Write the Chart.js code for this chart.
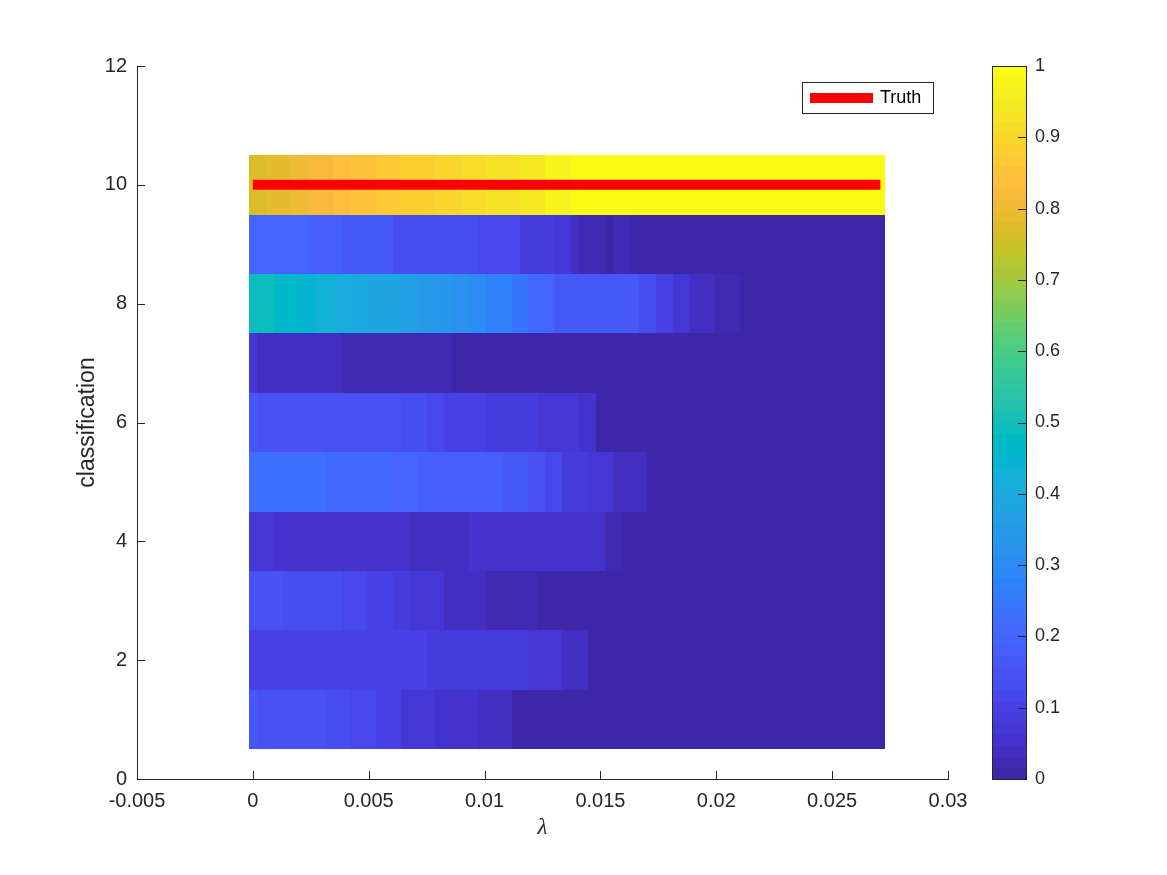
<!DOCTYPE html>
<html>
<head>
<meta charset="utf-8">
<script src="https://cdn.jsdelivr.net/npm/chart.js@4.4.1/dist/chart.umd.min.js"></script>
<style>
  html, body { margin: 0; padding: 0; background: #ffffff; }
  #wrap { width: 1167px; height: 875px; position: relative; }
</style>
</head>
<body>
<div id="wrap"><canvas id="heat" width="1167" height="875"></canvas></div>
<script>
// classification rows and the lambda grid of the image
const classes = [1, 2, 3, 4, 5, 6, 7, 8, 9, 10];
const lambdaStep = 0.000366;
const lambdaCount = 75;
const truthClass = 10;

const row1 = [[1, .17], [4, .155], [4, .145], [3, .13], [3, .115], [3, .10], [4, .075], [5, .06], [4, .04], [44, 0]];
const row2 = [[21, .095], [12, .08], [4, .065], [3, .045], [35, 0]];
const row3 = [[4, .15], [7, .13], [3, .115], [3, .10], [2, .085], [4, .065], [5, .045], [6, .025], [41, 0]];
const row4 = [[3, .07], [16, .055], [7, .045], [9, .06], [7, .05], [2, .03], [31, 0]];
const row5 = [[9, .22], [8, .205], [3, .19], [10, .18], [3, .165], [2, .15], [2, .12], [3, .09], [3, .065], [4, .045], [28, 0]];
const row6 = [[1, .165], [17, .155], [3, .14], [2, .12], [5, .10], [6, .09], [5, .07], [2, .05], [34, 0]];
const row7 = [[1, .065], [10, .045], [13, .03], [51, 0]];
const row8 = [[3, .49], [3, .46], [2, .445], [2, .43], [2, .41], [2, .40], [2, .39], [2, .38], [2, .365], [2, .35], [2, .335],
              [2, .32], [2, .30], [3, .28], [2, .24], [2, .215], [1, .20], [8, .17], [2, .16], [2, .13], [2, .095], [2, .07],
              [2, .045], [1, .035], [3, .03], [17, 0]];
const row9 = [[3, .20], [4, .19], [4, .175], [3, .165], [3, .16], [3, .14], [7, .125], [5, .115], [4, .09], [2, .065], [1, .045],
              [3, .03], [1, .005], [2, .03], [30, 0]];
const row10 = [[2, .77], [3, .785], [2, .80], [3, .82], [2, .84], [3, .85], [3, .87], [2, .88], [2, .89], [3, .90], [3, .91],
               [4, .93], [3, .95], [3, .97], [37, 1.0]];

const xTickValues = [-0.005, 0, 0.005, 0.01, 0.015, 0.02, 0.025, 0.03];
const xTickLabels = ['-0.005', '0', '0.005', '0.01', '0.015', '0.02', '0.025', '0.03'];
const yTickValues = [0, 2, 4, 6, 8, 10, 12];
const yTickLabels = ['0', '2', '4', '6', '8', '10', '12'];
const cbTickValues = [0, 0.1, 0.2, 0.3, 0.4, 0.5, 0.6, 0.7, 0.8, 0.9, 1];
const cbTickLabels = ['0', '0.1', '0.2', '0.3', '0.4', '0.5', '0.6', '0.7', '0.8', '0.9', '1'];

// parula, 64 entries
const parula = [
  [0.2422,0.1504,0.6603],[0.2504,0.1650,0.7076],[0.2578,0.1818,0.7511],[0.2647,0.1978,0.7952],
  [0.2706,0.2147,0.8364],[0.2751,0.2342,0.8710],[0.2783,0.2559,0.8991],[0.2803,0.2782,0.9221],
  [0.2813,0.3006,0.9414],[0.2810,0.3228,0.9579],[0.2795,0.3447,0.9717],[0.2760,0.3667,0.9829],
  [0.2699,0.3892,0.9906],[0.2602,0.4123,0.9952],[0.2440,0.4358,0.9988],[0.2206,0.4603,0.9973],
  [0.1963,0.4847,0.9892],[0.1834,0.5074,0.9798],[0.1786,0.5289,0.9682],[0.1764,0.5499,0.9520],
  [0.1687,0.5703,0.9359],[0.1540,0.5902,0.9218],[0.1460,0.6091,0.9079],[0.1380,0.6276,0.8973],
  [0.1248,0.6459,0.8883],[0.1113,0.6635,0.8763],[0.0952,0.6798,0.8598],[0.0689,0.6948,0.8394],
  [0.0297,0.7082,0.8163],[0.0036,0.7203,0.7917],[0.0067,0.7312,0.7660],[0.0433,0.7411,0.7394],
  [0.0964,0.7500,0.7120],[0.1408,0.7584,0.6842],[0.1717,0.7670,0.6554],[0.1938,0.7758,0.6251],
  [0.2161,0.7843,0.5923],[0.2470,0.7918,0.5567],[0.2906,0.7973,0.5188],[0.3406,0.8008,0.4789],
  [0.3909,0.8029,0.4354],[0.4456,0.8024,0.3909],[0.5044,0.7993,0.3480],[0.5616,0.7942,0.3045],
  [0.6174,0.7876,0.2612],[0.6720,0.7793,0.2227],[0.7242,0.7698,0.1910],[0.7738,0.7598,0.1646],
  [0.8203,0.7498,0.1535],[0.8634,0.7406,0.1596],[0.9035,0.7330,0.1774],[0.9393,0.7288,0.2100],
  [0.9728,0.7298,0.2394],[0.9956,0.7434,0.2371],[0.9970,0.7659,0.2199],[0.9952,0.7893,0.2028],
  [0.9892,0.8136,0.1885],[0.9786,0.8386,0.1766],[0.9676,0.8639,0.1643],[0.9610,0.8890,0.1537],
  [0.9597,0.9135,0.1423],[0.9628,0.9373,0.1265],[0.9691,0.9606,0.1064],[0.9769,0.9839,0.0805]
];

const axisColor = '#262626';
const fontFamily = '"Liberation Sans", Arial, Helvetica, sans-serif';

function expandRuns(runs) {
  const out = [];
  runs.forEach(([n, v]) => { for (let i = 0; i < n; i++) out.push(v); });
  return out;
}

function parulaColor(v) {
  const idx = Math.max(0, Math.min(63, Math.floor(v * 64)));
  const c = parula[idx];
  return `rgb(${Math.round(c[0] * 255)},${Math.round(c[1] * 255)},${Math.round(c[2] * 255)})`;
}

const rows = [row1, row2, row3, row4, row5, row6, row7, row8, row9, row10].map(expandRuns);
const lambdas = Array.from({ length: lambdaCount }, (_, i) => i * lambdaStep);

// fixed box sizes so the plot area sits where the figure has it
const fixBox = (w, h) => s => {
  if (w !== null) s.width = w;
  if (h !== null) s.height = h;
  s.paddingTop = 0; s.paddingBottom = 0; s.paddingLeft = 0; s.paddingRight = 0;
};

const heatmap = {
  id: 'heatmap',
  beforeDatasetsDraw(chart) {
    const { ctx, chartArea: a, scales: { x, y } } = chart;
    ctx.save();
    ctx.beginPath();
    ctx.rect(a.left, a.top, a.width, a.height);
    ctx.clip();
    rows.forEach((vals, r) => {
      const yTop = Math.round(y.getPixelForValue(classes[r] + 0.5));
      const yBot = Math.round(y.getPixelForValue(classes[r] - 0.5));
      vals.forEach((v, k) => {
        const x0 = Math.round(x.getPixelForValue(lambdas[k] - lambdaStep / 2));
        const x1 = Math.round(x.getPixelForValue(lambdas[k] + lambdaStep / 2));
        ctx.fillStyle = parulaColor(v);
        ctx.fillRect(x0, yTop, x1 - x0, yBot - yTop);
      });
    });
    ctx.restore();
  }
};

const axisExtras = {
  id: 'axisExtras',
  afterDraw(chart) {
    const { ctx, chartArea: a, scales: { x, y, cb } } = chart;
    ctx.save();
    ctx.strokeStyle = axisColor;
    ctx.lineWidth = 1;
    const seg = (x0, y0, x1, y1) => { ctx.beginPath(); ctx.moveTo(x0, y0); ctx.lineTo(x1, y1); ctx.stroke(); };

    // inward tick marks
    x.ticks.forEach(t => {
      const px = Math.round(x.getPixelForValue(t.value)) + 0.5;
      seg(px, a.bottom, px, a.bottom - 8);
    });
    y.ticks.forEach(t => {
      const py = Math.round(y.getPixelForValue(t.value)) + 0.5;
      seg(a.left, py, a.left + 8, py);
    });

    // colour bar
    const cbLeft = a.right + 44, cbW = 34;
    for (let i = 0; i < 64; i++) {
      const yTop = Math.round(cb.getPixelForValue((i + 1) / 64));
      const yBot = Math.round(cb.getPixelForValue(i / 64));
      ctx.fillStyle = parulaColor((i + 0.5) / 64);
      ctx.fillRect(cbLeft, yTop, cbW, yBot - yTop);
    }
    const cTop = Math.round(cb.getPixelForValue(1)), cBot = Math.round(cb.getPixelForValue(0));
    ctx.strokeRect(cbLeft + 0.5, cTop + 0.5, cbW, cBot - cTop);
    cb.ticks.forEach(t => {
      const py = Math.round(cb.getPixelForValue(t.value)) + 0.5;
      seg(cbLeft + cbW - 8, py, cbLeft + cbW, py);
    });

    // legend
    const ds = chart.data.datasets[0];
    const bx = a.right - 146, by = a.top + 16, bw = 131, bh = 31;
    ctx.fillStyle = '#ffffff';
    ctx.fillRect(bx, by, bw, bh);
    ctx.strokeRect(bx + 0.5, by + 0.5, bw, bh);
    ctx.strokeStyle = ds.borderColor;
    ctx.lineWidth = 10;
    seg(bx + 8, by + 16, bx + 71, by + 16);
    ctx.fillStyle = '#000000';
    ctx.font = `18px ${fontFamily}`;
    ctx.textBaseline = 'middle';
    ctx.textAlign = 'left';
    ctx.fillText(ds.label, bx + 78, by + 16.5);
    ctx.restore();
  }
};

new Chart(document.getElementById('heat'), {
  type: 'scatter',
  data: {
    datasets: [{
      label: 'Truth',
      data: [{ x: lambdas[0], y: truthClass }, { x: lambdas[lambdaCount - 1], y: truthClass }],
      showLine: true,
      borderColor: '#ff0000',
      borderWidth: 10,
      borderCapStyle: 'butt',
      pointRadius: 0,
      xAxisID: 'x',
      yAxisID: 'y'
    }]
  },
  options: {
    responsive: false,
    animation: false,
    devicePixelRatio: 1,
    layout: { padding: { top: 66, left: 0, right: 0, bottom: 0 } },
    plugins: { legend: { display: false }, tooltip: { enabled: false } },
    scales: {
      x: {
        type: 'linear', position: 'bottom', min: -0.005, max: 0.03,
        grid: { display: false, drawTicks: false },
        border: { display: true, color: axisColor, width: 1 },
        afterBuildTicks: s => { s.ticks = xTickValues.map(v => ({ value: v })); },
        afterFit: fixBox(null, 96),
        ticks: {
          autoSkip: false, maxRotation: 0, padding: 10, color: axisColor,
          font: { family: fontFamily, size: 20 },
          callback: (v, i) => xTickLabels[i]
        },
        title: {
          display: true, text: 'λ', color: axisColor,
          font: { family: '"Liberation Serif", "DejaVu Serif", serif', size: 23, style: 'italic' },
          padding: { top: 0, bottom: 33 }
        }
      },
      y: {
        type: 'linear', position: 'left', min: 0, max: 12,
        grid: { display: false, drawTicks: false },
        border: { display: true, color: axisColor, width: 1 },
        afterBuildTicks: s => { s.ticks = yTickValues.map(v => ({ value: v })); },
        afterFit: fixBox(137, null),
        ticks: {
          autoSkip: false, padding: 10, color: axisColor,
          font: { family: fontFamily, size: 20 },
          callback: (v, i) => yTickLabels[i]
        },
        title: {
          display: true, text: 'classification', color: axisColor,
          font: { family: fontFamily, size: 23 },
          padding: { top: 74, bottom: 0 }
        }
      },
      cb: {
        type: 'linear', position: 'right', min: 0, max: 1,
        grid: { display: false, drawTicks: false },
        border: { display: false },
        afterBuildTicks: s => { s.ticks = cbTickValues.map(v => ({ value: v })); },
        afterFit: fixBox(219, null),
        ticks: {
          autoSkip: false, padding: 87, color: axisColor,
          font: { family: fontFamily, size: 18 },
          callback: (v, i) => cbTickLabels[i]
        }
      }
    }
  },
  plugins: [heatmap, axisExtras]
});
</script>
</body>
</html>
